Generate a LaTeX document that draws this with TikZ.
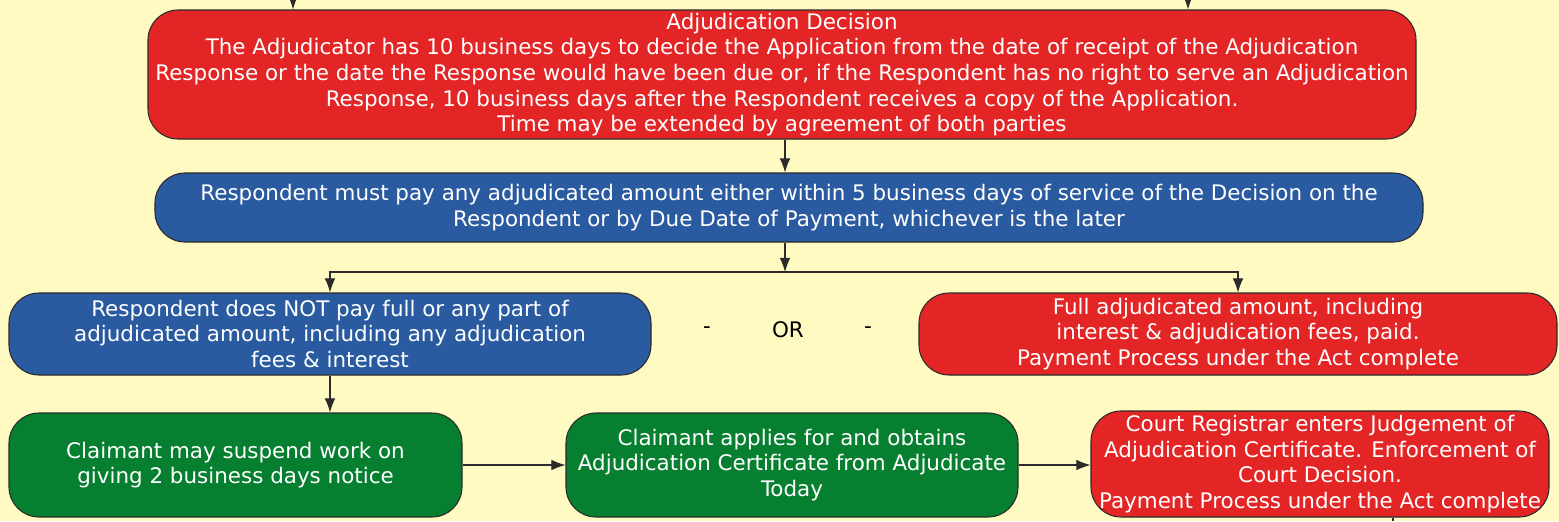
\documentclass[tikz,border=0pt]{standalone}
\usepackage{fontspec}
\setmainfont{DejaVu Sans}
\usepackage{tikz}
\usetikzlibrary{arrows.meta,positioning,calc}
\usepackage{xcolor}
\definecolor{adjRed}{HTML}{E32526}
\definecolor{adjBlue}{HTML}{2A5BA0}
\definecolor{adjGreen}{HTML}{077F30}
\definecolor{adjBack}{HTML}{FFF9C2}
\definecolor{adjBorder}{HTML}{2B2B2B}
\tikzset{
    % Box styles
    flowbox/.style={rectangle, rounded corners=0.6cm, draw=adjBorder, line width=0.6pt, text=white, align=center, inner sep=0pt, font=\fontsize{12.2}{14.6}\selectfont},
    redbox/.style={flowbox, fill=adjRed},
    bluebox/.style={flowbox, fill=adjBlue},
    greenbox/.style={flowbox, fill=adjGreen},
    % Connector style
    arrow/.style={-{Latex[length=8pt,width=6pt]}, line width=0.6pt, adjBorder}
}

\begin{document}
\begin{tikzpicture}
    % Background
    \fill[adjBack] (0,0) rectangle (31.18,-10.42);
    \useasboundingbox (0,0) rectangle (31.18,-10.42);

    % Adjudication decision
    \node[redbox, minimum width=25.36cm, minimum height=2.58cm] (decision) at (15.64,-1.49)
        {Adjudication Decision\\
         The Adjudicator has 10 business days to decide the Application from the date of receipt of the Adjudication\\
         Response or the date the Response would have been due or, if the Respondent has no right to serve an Adjudication\\
         Response, 10 business days after the Respondent receives a copy of the Application.\\
         Time may be extended by agreement of both parties};

    % Payment due
    \node[bluebox, minimum width=25.36cm, minimum height=1.38cm] (mustpay) at (15.78,-4.15)
        {Respondent must pay any adjudicated amount either within 5 business days of service of the Decision on the\\
         Respondent or by Due Date of Payment, whichever is the later};

    % The two outcomes
    \node[bluebox, minimum width=12.84cm, minimum height=1.64cm] (nopay) at (6.60,-6.68)
        {Respondent does NOT pay full or any part of\\
         adjudicated amount, including any adjudication\\
         fees \& interest};
    \node[redbox, minimum width=12.76cm, minimum height=1.64cm] (paid) at (24.76,-6.68)
        {Full adjudicated amount, including\\
         interest \& adjudication fees, paid.\\
         Payment Process under the Act complete};
    \node[font=\fontsize{12.2}{14.6}\selectfont] (dashL) at (14.14,-6.60) {-};
    \node[font=\fontsize{12.2}{14.6}\selectfont] (orlabel) at (15.76,-6.60) {OR};
    \node[font=\fontsize{12.2}{14.6}\selectfont] (dashR) at (17.36,-6.60) {-};

    % Enforcement steps
    \node[greenbox, minimum width=9.06cm, minimum height=2.08cm] (suspend) at (4.71,-9.30)
        {Claimant may suspend work on\\
         giving 2 business days notice};
    \node[greenbox, minimum width=9.04cm, minimum height=2.08cm] (certificate) at (15.84,-9.30)
        {Claimant applies for and obtains\\
         Adjudication Certificate from Adjudicate\\
         Today};
    \node[redbox, minimum width=9.16cm, minimum height=2.12cm] (court) at (26.40,-9.28)
        {Court Registrar enters Judgement of\\
         Adjudication Certificate. Enforcement of\\
         Court Decision.\\
         Payment Process under the Act complete};

    % Free ends
    \coordinate (inL) at (5.86,0);
    \coordinate (inR) at (23.76,0);
    \coordinate (split) at (15.70,-5.44);
    \coordinate (outR) at (27.86,-10.42);

    % Connectors
    \draw[arrow] (inL) -- (inL |- decision.north);
    \draw[arrow] (inR) -- (inR |- decision.north);
    \draw[arrow] (split |- decision.south) -- (split |- mustpay.north);
    \draw[arrow] (split |- mustpay.south) -- (split);
    \draw[arrow] (split) -| (nopay.north);
    \draw[arrow] (split) -| (paid.north);
    \draw[arrow] (nopay.south) -- (nopay.south |- suspend.north);
    \draw[arrow] (suspend.east) -- (certificate.west);
    \draw[arrow] (certificate.east) -- (certificate.east -| court.west);
    \draw[line width=0.6pt, adjBorder] (outR |- court.south) -- (outR);
\end{tikzpicture}
\end{document}
